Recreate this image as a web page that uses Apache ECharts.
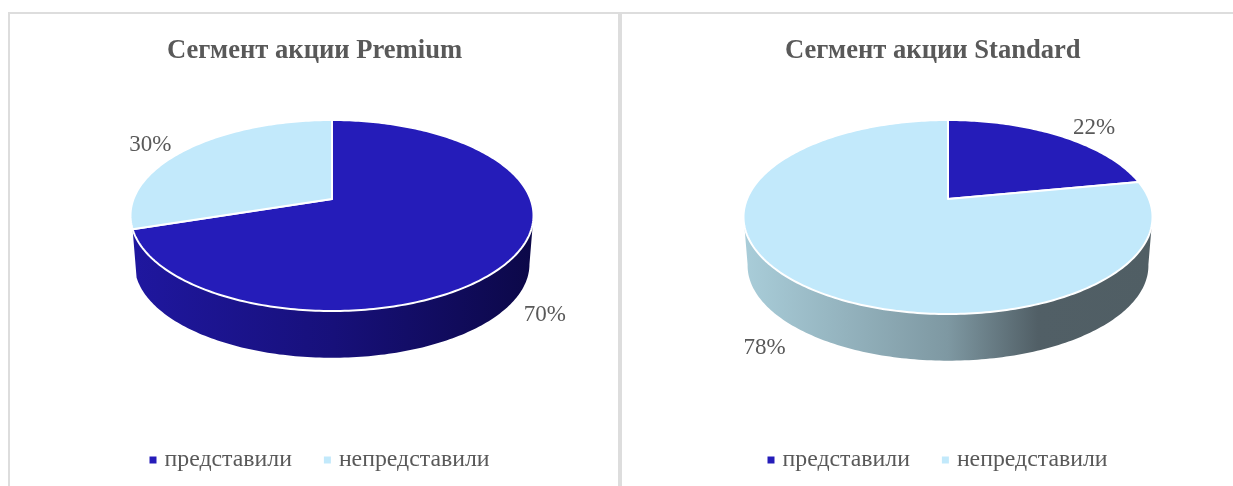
<!DOCTYPE html>
<html>
<head>
<meta charset="utf-8">
<style>html,body{margin:0;padding:0;background:#fff}#c{width:1233px;height:486px}</style>
<script src="https://cdn.jsdelivr.net/npm/echarts@6/dist/echarts.min.js"></script>
</head>
<body>
<div id="c"></div>
<script>
const categories = ['представили', 'непредставили'];
const titles = ['Сегмент акции Premium', 'Сегмент акции Standard'];
const premiumValues = [70, 30];
const standardValues = [22, 78];

const FONT = '"Liberation Serif","Times New Roman",serif';
const TEXT = '#595959';
const topColors = ['#251CB9', '#C2E9FB'];
const sideStops = [
  [[0, '#1F179F'], [0.5, '#17107A'], [1, '#0C0848']],
  [[0, '#A9CDD9'], [0.5, '#7E98A2'], [0.72, '#515F66'], [1, '#505E64']]
];
// perspective pie geometry: apex, half widths, far and near extents
const pies = [
  { values: premiumValues, ax: 332, ay: 199, rx: 201.5, far: 79, near: 112, depth: 49, labelOff: [[34, 55], [-36, -5]] },
  { values: standardValues, ax: 948, ay: 199, rx: 204.5, far: 79, near: 115, depth: 49, labelOff: [[34, -8], [-34, 65]] }
];
pies.forEach(p => {
  p.a = 2 / (1 / p.far + 1 / p.near);
  p.p = p.a / p.far - 1;
  p.b = p.rx * Math.sqrt(1 - p.p * p.p);
});
function project(p, deg, s, dy) {
  const t = deg * Math.PI / 180, u = Math.sin(t), v = Math.cos(t), w = 1 + p.p * v;
  return [p.ax + s * p.b * u / w, p.ay - s * p.a * v / w + dy];
}
function arc(p, from, to, s, dy) {
  const pts = [], n = Math.max(2, Math.ceil(Math.abs(to - from)));
  for (let i = 0; i <= n; i++) pts.push(project(p, from + (to - from) * i / n, s, dy));
  return pts;
}
function sliceSeries(pieIndex, catIndex) {
  const p = pies[pieIndex];
  const total = p.values.reduce((a, b) => a + b, 0);
  const before = p.values.slice(0, catIndex).reduce((a, b) => a + b, 0);
  return {
    type: 'custom',
    name: categories[catIndex],
    coordinateSystem: 'none',
    silent: true,
    itemStyle: { color: topColors[catIndex] },
    data: [[p.values[catIndex], before, total]],
    renderItem: function (params, api) {
      const a0 = api.value(1) / api.value(2) * 360;
      const a1 = (api.value(1) + api.value(0)) / api.value(2) * 360;
      const mid = (a0 + a1) / 2;
      const children = [];
      const f0 = Math.max(a0, 100), f1 = Math.min(a1, 260);
      if (f1 - f0 > 20) {
        const upper = arc(p, f0, f1, 1, 0);
        const lower = arc(p, f1, f0, 0.98, p.depth);
        children.push({
          type: 'polygon',
          shape: { points: upper.concat(lower) },
          style: {
            fill: {
              type: 'linear', x: 0, y: 0, x2: 1, y2: 0, global: false,
              colorStops: sideStops[catIndex].map(s => ({ offset: s[0], color: s[1] }))
            }
          }
        });
      }
      children.push({
        type: 'polygon',
        shape: { points: [[p.ax, p.ay]].concat(arc(p, a0, a1, 1, 0)) },
        style: { fill: topColors[catIndex], stroke: '#ffffff', lineWidth: 2, lineJoin: 'round' }
      });
      const anchor = project(p, mid, 1, 0), off = p.labelOff[catIndex];
      children.push({
        type: 'text',
        x: anchor[0] + off[0],
        y: anchor[1] + off[1],
        style: {
          text: api.value(0) + '%', fill: TEXT, font: '23px ' + FONT,
          align: 'center', verticalAlign: 'middle'
        }
      });
      return { type: 'group', children: children };
    }
  };
}
const panelLine = '#DDDDDD';
const option = {
  animation: false,
  backgroundColor: '#ffffff',
  title: [
    { text: titles[0], left: 162, top: 33, textStyle: { fontFamily: FONT, fontSize: 26.6, fontWeight: 'bold', color: TEXT } },
    { text: titles[1], left: 780, top: 33, textStyle: { fontFamily: FONT, fontSize: 26.6, fontWeight: 'bold', color: TEXT } }
  ],
  legend: [144.5, 762.5].map(x => ({
    data: categories, left: x, top: 443, icon: 'rect', itemWidth: 7, itemHeight: 7, itemGap: 32, selectedMode: false,
    textStyle: { fontFamily: FONT, fontSize: 23.8, color: TEXT, padding: [4, 0, 0, 3] }
  })),
  graphic: [
    { type: 'rect', silent: true, shape: { x: 8, y: 12, width: 1225, height: 2 }, style: { fill: panelLine } },
    { type: 'rect', silent: true, shape: { x: 8, y: 12, width: 2, height: 474 }, style: { fill: panelLine } },
    { type: 'rect', silent: true, shape: { x: 618, y: 12, width: 4, height: 474 }, style: { fill: panelLine } }
  ],
  series: [sliceSeries(0, 0), sliceSeries(0, 1), sliceSeries(1, 0), sliceSeries(1, 1)]
};
echarts.init(document.getElementById('c'), null, { renderer: 'canvas' }).setOption(option);
</script>
</body>
</html>
